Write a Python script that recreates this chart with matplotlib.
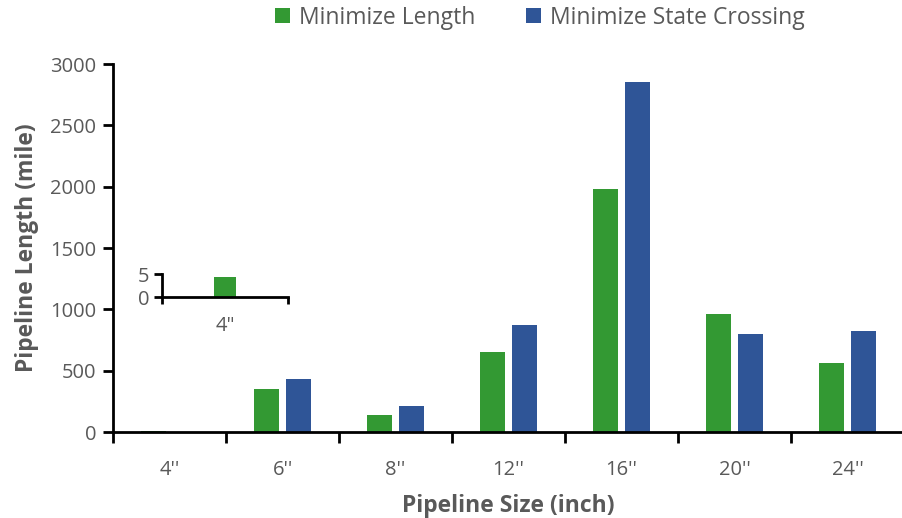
import numpy as np
from matplotlib import pyplot as plt

plt.rcParams['font.family'] = ['Open Sans', 'DejaVu Sans']

sizes = ["4''", "6''", "8''", "12''", "16''", "20''", "24''"]
min_length = [4.4, 350, 140, 650, 1980, 960, 560]
min_crossing = [0, 430, 210, 870, 2850, 800, 820]

inset_label = ['4"']
inset_length = [4.4]

green = '#339933'
blue = '#2f5597'
gray = '#595959'

fig = plt.figure(figsize=(9.02, 5.18), dpi=100)
ax = fig.add_axes([0.1253, 0.166, 0.877, 0.7104])

x = np.arange(len(sizes))
w = 0.22
off = 0.143
ax.bar(x - off, min_length, w, color=green, label='Minimize Length')
ax.bar(x + off, min_crossing, w, color=blue, label='Minimize State Crossing')

ax.set_xlim(-0.5, len(sizes) - 0.5)
ax.set_ylim(0, 3000)
ax.set_yticks(range(0, 3001, 500))
ax.set_xticks(x)
ax.set_xticklabels(sizes)
ax.set_xticks(np.arange(-0.5, len(sizes), 1), minor=True)
ax.tick_params(axis='x', which='major', length=0, pad=20, labelsize=14.5, labelcolor=gray)
ax.tick_params(axis='x', which='minor', length=8, width=2, direction='out')
ax.tick_params(axis='y', length=7, width=2, labelsize=14.5, labelcolor=gray, pad=5)

for s in ['top', 'right']:
    ax.spines[s].set_visible(False)
for s in ['left', 'bottom']:
    ax.spines[s].set_linewidth(2)

ax.set_xlabel('Pipeline Size (inch)', fontsize=16.5, fontweight='bold', color=gray, labelpad=10)
ax.set_ylabel('Pipeline Length (mile)', fontsize=16.5, fontweight='bold', color=gray, labelpad=8)

ax.legend(loc='upper center', bbox_to_anchor=(0.54, 1.215), ncol=2, frameon=False,
          fontsize=16.5, labelcolor=gray, handlelength=0.65, handleheight=0.65,
          handletextpad=0.4, columnspacing=2.2)

# inset zoom on the 4'' category
ins = fig.add_axes([0.1796, 0.4266, 0.1397, 0.0444])
ins.bar([0], inset_length, 0.18, color=green)
ins.set_xlim(-0.5, 0.5)
ins.set_ylim(0, 5)
ins.set_yticks([0, 5])
ins.set_xticks([0])
ins.set_xticklabels(inset_label)
ins.set_xticks([-0.5, 0.5], minor=True)
ins.tick_params(axis='x', which='major', length=0, pad=14, labelsize=14.5, labelcolor=gray)
ins.tick_params(axis='x', which='minor', length=5, width=2)
ins.tick_params(axis='y', length=6, width=2, labelsize=14.5, labelcolor=gray, pad=3)
ins.patch.set_alpha(0)
for s in ['top', 'right']:
    ins.spines[s].set_visible(False)
for s in ['left', 'bottom']:
    ins.spines[s].set_linewidth(2)

plt.savefig('out.png', dpi=100)
